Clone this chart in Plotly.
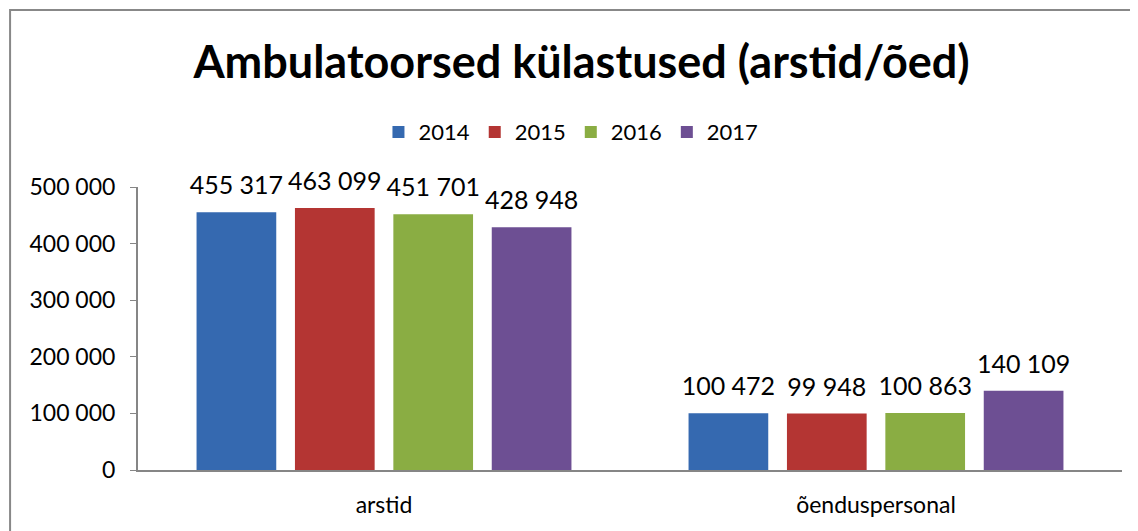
import plotly.graph_objects as go

# data
categories = ["arstid", "õenduspersonal"]
years = ["2014", "2015", "2016", "2017"]
visits_2014 = [455317, 100472]
visits_2015 = [463099, 99948]
visits_2016 = [451701, 100863]
visits_2017 = [428948, 140109]
y_ticks = [0, 100000, 200000, 300000, 400000, 500000]

series = [visits_2014, visits_2015, visits_2016, visits_2017]
colors = ["#3569b0", "#b43533", "#8aad43", "#6d4f93"]

FONT = "Lato"

fig = go.Figure()
for year, vals, col in zip(years, series, colors):
    fig.add_trace(go.Bar(
        x=categories, y=vals, name=year, offsetgroup=year,
        marker=dict(color=col, line=dict(width=0)),
    ))

# value labels as grouped scatter text, invisible marker pushes text up from bar top
for year, vals in zip(years, series):
    fig.add_trace(go.Scatter(
        x=categories, y=vals, offsetgroup=year, showlegend=False,
        mode="markers+text", marker=dict(size=17, opacity=0),
        texttemplate="%{y:,d}", textposition="top center",
        textfont=dict(family=FONT, size=25, color="#000000"),
        cliponaxis=False, hoverinfo="skip",
    ))

# page adds an 8px offset, margins are compensated for it
fig.update_layout(
    width=1138, height=531,
    margin=dict(l=130, r=24, t=179, b=69),
    paper_bgcolor="white", plot_bgcolor="white",
    separators=". ",
    barmode="group", bargap=0.2, bargroupgap=0.19,
    scattermode="group", scattergap=0.2,
    font=dict(family=FONT, size=23, color="#000000"),
    title=dict(text="<b>Ambulatoorsed külastused (arstid/õed)</b>",
               font=dict(family=FONT, size=45, color="#000000"),
               x=0.504, xanchor="center", y=0.898, yanchor="middle"),
    legend=dict(orientation="h", x=0.44, xanchor="center", y=1.194, yanchor="middle",
                font=dict(family=FONT, size=22), itemwidth=30, traceorder="normal"),
    showlegend=True,
)

fig.update_yaxes(range=[0, 500000], tickvals=y_ticks, tickformat=",d",
                 showgrid=False, zeroline=False, showline=True, linecolor="#868686", linewidth=2,
                 ticks="outside", ticklen=6, tickcolor="#868686", ticklabelstandoff=10)
fig.update_xaxes(showgrid=False, showline=True, linecolor="#868686", linewidth=2,
                 ticks="", ticklabelstandoff=13)

# outer chart border
fig.add_shape(type="rect", xref="paper", yref="paper",
              x0=-0.1300, x1=1.1, y0=-0.5, y1=1.6254,
              line=dict(color="#888888", width=2), fillcolor="rgba(0,0,0,0)", layer="below")

fig.write_html("out.html")
